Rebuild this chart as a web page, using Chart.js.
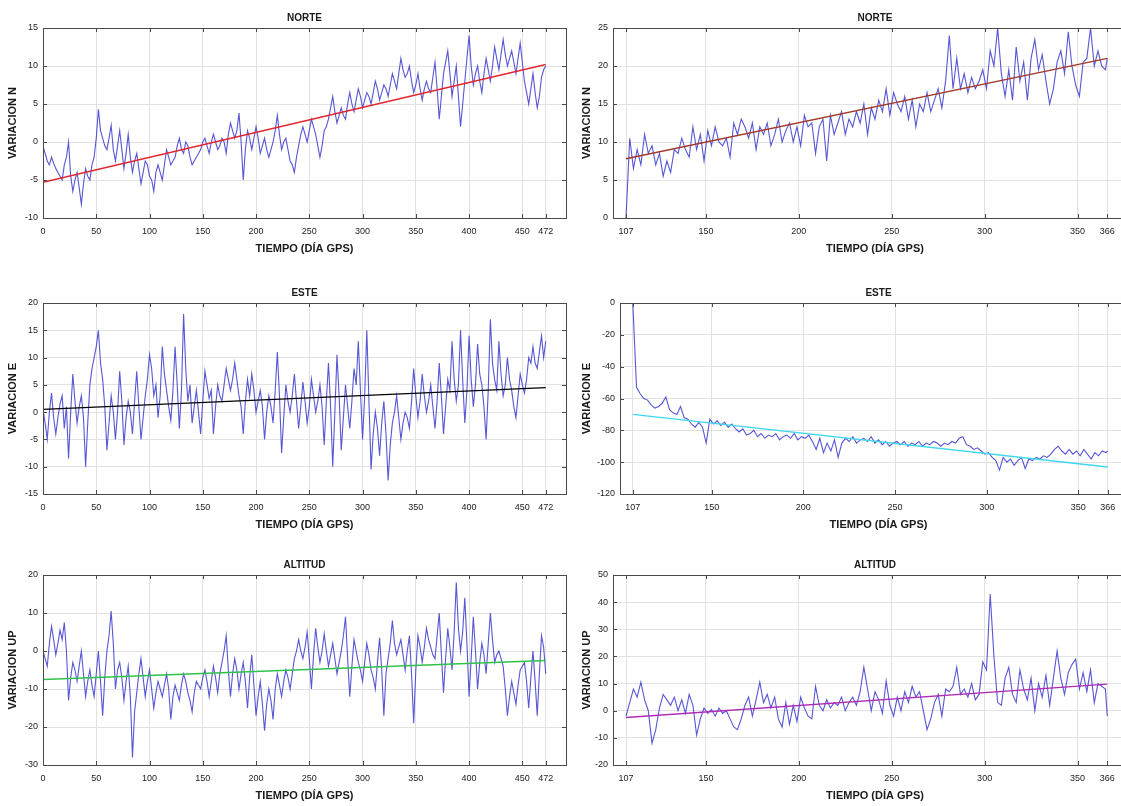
<!DOCTYPE html>
<html>
<head>
<meta charset="utf-8">
<script src="https://cdn.jsdelivr.net/npm/chart.js@4.4.0/dist/chart.umd.min.js"></script>
<style>
  html, body { margin: 0; padding: 0; background: #fff; }
  body { width: 1121px; height: 806px; overflow: hidden; position: relative; }
  canvas { position: absolute; }
</style>
</head>
<body>
<canvas id="norteL"></canvas>
<canvas id="norteR"></canvas>
<canvas id="esteL"></canvas>
<canvas id="esteR"></canvas>
<canvas id="altL"></canvas>
<canvas id="altR"></canvas>
<script>
const X_LABEL = "TIEMPO (DÍA GPS)";
const TITLES = ["NORTE", "ESTE", "ALTITUD"];
const Y_LABELS = ["VARIACION N", "VARIACION E", "VARIACION UP"];

const X_TICKS_L = [0, 50, 100, 150, 200, 250, 300, 350, 400, 450, 472];
const X_TICKS_R = [107, 150, 200, 250, 300, 350, 366];

// left column: one reading every 2 days, day 0 .. 472 (20 per row = 40 days)
const STEP_L = 2;
const NORTE_L = [
  -0.5, -1.5, -2.5, -3.0, -2.0, -2.8, -3.5, -4.0, -4.5, -5.0, -3.0, -2.0, 0.0, -4.5, -6.5, -5.0, -4.0, -6.0, -8.2, -5.5,
  -3.5, -4.5, -5.0, -3.0, -2.0, 0.5, 4.3, 1.5, 0.5, -0.5, -1.0, 0.5, 2.2, -1.0, -2.5, -0.5, 1.5, -1.0, -3.5, -1.5,
  1.0, -2.0, -4.0, -2.5, -1.5, -3.5, -5.5, -4.0, -2.5, -3.0, -4.5, -5.0, -6.5, -4.0, -3.0, -4.0, -5.0, -3.0, -1.0, -2.0,
  -3.0, -2.5, -2.0, -0.5, 0.5, -1.0, -1.5, 0.0, -0.5, -2.0, -3.0, -2.5, -2.0, -1.5, -1.0, 0.0, 0.5, -0.5, -1.5, 0.0,
  1.0, 0.0, -1.0, -0.5, 0.5, 0.0, -1.5, 1.0, 2.5, 1.5, 0.5, 1.5, 3.8, 0.0, -5.0, -1.0, 1.5, 0.5, -1.0, 0.5,
  2.0, 0.5, -1.5, -0.5, 0.5, -1.0, -2.0, -1.0, 0.0, 1.5, 3.5, 1.0, -1.0, 0.0, 0.5, -1.0, -2.5, -3.0, -4.0, -2.0,
  -0.5, 1.0, 2.0, 1.0, 0.0, 1.5, 3.0, 2.0, 1.0, -0.5, -2.0, -0.5, 1.5, 2.0, 3.0, 4.5, 6.0, 4.0, 2.5, 3.5,
  4.5, 3.5, 3.0, 5.0, 6.5, 5.0, 4.0, 5.5, 7.0, 6.0, 4.5, 5.5, 6.5, 6.0, 5.0, 6.5, 8.0, 7.0, 5.5, 6.5,
  7.5, 7.0, 6.0, 7.5, 9.0, 8.0, 7.0, 9.0, 11.0, 9.5, 8.5, 9.0, 10.0, 8.0, 6.5, 7.5, 9.0, 7.0, 5.5, 7.0,
  8.0, 7.0, 6.5, 8.5, 10.5, 7.0, 3.0, 6.0, 9.0, 10.5, 12.0, 9.0, 6.0, 8.0, 10.0, 6.0, 2.0, 5.0, 8.0, 11.0,
  14.0, 10.0, 7.5, 9.0, 10.0, 8.0, 6.5, 9.0, 11.0, 9.5, 8.0, 10.0, 12.5, 11.0, 9.5, 11.5, 13.5, 11.5, 10.0, 11.0,
  12.0, 10.5, 9.0, 11.0, 13.0, 10.5, 8.0, 6.5, 5.0, 7.0, 9.0, 6.5, 4.5, 6.0, 8.5, 9.5, 10.0
];
const ESTE_L = [
  0.5, -2, -5, 0, 3.5, -1, -4, -1, 1.5, 3, -3, 1, -8.5, 0, 7, 2, -2, 1, 3, -1,
  -10, -2, 5, 8, 10, 12, 15, 9, 6, 1, -7, -2, 3, 0, -5, 0, 7.5, 2, -6, -1,
  2, 0, -4, 2, 7.5, 1, -5, -1, 3, 6, 10.5, 8, 3, 5, -1, 3, 12, 7, 4, 1,
  -1.5, 4, 12, 5, -3, 4, 18, 8, 2, 5, -2, 1, 4, 0, -4, 2, 7.5, 5, 2.5, 4,
  -4, 1, 5, 3, 2, 5, 8, 6, 4, 6, 9, 6, 3, 1, -4, 2, 6, 3, 7, 4,
  0, 2, 4, 1, -5, 0, 3, 1, -2, 4, 11, 3, -7.5, -1, 5, 2, 0, 3, 7, 2,
  -3, 1, 5.5, 2, -2, 1, 6, 3, 0, 2, 5, 1, -6, 2, 9, 1, -10, 0, 10.5, 3,
  -7, -1, 5, 1, -3, 2, 8, 5, 13, 4, -5, 3, 15, 2, -10.5, -4, 0, -3, -8, -2,
  2, -4, -12.5, -6, -2, 0, 3, -1, -5, -2, 0, -1, -3, 2, 8, 3, -1, 2, 7, 3,
  0, 2, 5, 1, -3, 2, 9, 3, -4, 1, 6, 4, 13, 6, 2, 5, 15, 6, -2, 4,
  14, 6, 1, 5, 12.5, 7, 5, 1, -5, 4, 17, 9, 6, 4, 13, 7, 3, 5, 10, 6,
  4, 1, -1, 3, 7, 5, 3.5, 6, 10, 9, 12, 9, 8, 11, 14, 10, 13
];
const ALT_L = [
  0, -2, -4, 2, 6.5, 3, -1, 2, 5.5, 3, 7.5, 0, -13, -7, -3, -5, -8, -4, 0, -6,
  -12, -8, -5, -9, -12, -6, 0, -8, -17, -7, 0, 4, 10.5, 2, -10, -5, -3, -7, -13, -8,
  -4, -12, -28, -16, -11, -6, -2, -7, -12, -8, -5, -10, -15, -11, -8, -10, -12, -9, -6, -10,
  -18, -12, -9, -11, -13, -9, -6, -8, -11, -13, -16, -11, -8, -9, -10, -7, -5, -8, -12, -8,
  -4, -7, -11, -6, -3, 0, 4, -5, -12, -6, -2, -5, -10, -6, -3, -8, -15, -7, -1, -9,
  -17, -12, -8, -14, -21, -14, -10, -13, -18, -10, -6, -9, -12, -8, -5, -7, -10, -6, -2, 0,
  3, 0, -2, 1, 5, -2, -10, -1, 6, 1, -3, 0, 4.5, 0, -4, -1, 2, -2, -6, -3,
  0, 4, 9, -2, -12, -4, 3, 0, -3, -5, -8, -3, 2, -1, -5, -7, -10, -3, 3.5, -5,
  -17, -6, -2, 2, 8, 2, -1, 1, 3, -1, -5, 0, 4, -6, -19, -5, 4, 1, -3, 1,
  6, 3, 1, -1, -2, 4, 10, -1, -11, -2, 6, 1, -5, 5, 18, 6, 0, 5, 14, 2,
  -12, -2, 9, 0, -10, -3, 2, -1, -6, 2, 10, 3, -3, -1, 0, -2, -4, -10, -17, -12,
  -8, -11, -14, -9, -5, -4, -3, -8, -15, -7, 0, -8, -17, -6, 4, 1, -6
];

// right column: one reading every 2 days from day 107, last one on day 366
const START_R = 107, STEP_R = 2, END_R = 366;
const NORTE_R = [
  0, 10.5, 6.5, 9, 7, 11, 8.5, 9.5, 7, 8.5,
  5.5, 7.5, 6, 9, 8.5, 10.5, 9, 8, 12, 9,
  11, 7.5, 11.5, 9.5, 12, 10, 9.5, 10.5, 8, 12.5,
  11, 13, 12, 10.5, 12.5, 9, 12, 11, 12.5, 9.5,
  11, 13, 10, 11.5, 12.5, 10, 12, 9.5, 13.5, 12,
  12.5, 8.5, 12, 13, 7.5, 13.5, 11, 12.5, 14, 11,
  13, 12, 14, 12.5, 15, 11, 14.5, 13, 15.5, 14,
  17, 13.5, 16.5, 15, 14, 16, 13, 15.5, 12, 15,
  14, 16.5, 14, 15.5, 17, 14.5, 18, 24, 17, 21,
  17, 19, 16.5, 18.5, 17, 18, 19.5, 17, 22, 20,
  25, 19, 16, 19.5, 15.5, 22.5, 18, 20.5, 15.5, 21,
  23.5, 19.5, 21.5, 18, 15, 17, 20.5, 22, 19, 24.5,
  20, 17.5, 16, 20.5, 21, 25, 20, 22, 20, 19.5,
  21
];
const ESTE_R = [
  0, -53, -57, -60, -61, -64, -66, -65, -63, -59,
  -67, -69, -70, -65, -72, -73, -76, -78, -75, -78,
  -88, -73, -76, -74, -77, -75, -78, -76, -79, -81,
  -79, -83, -82, -80, -84, -82, -85, -83, -84, -82,
  -86, -84, -83, -85, -82, -86, -84, -85, -83, -87,
  -92, -85, -94, -88, -93, -86, -97, -88, -85, -87,
  -84, -88, -86, -85, -87, -84, -88, -86, -89, -87,
  -90, -88, -87, -89, -87, -90, -88, -89, -87, -90,
  -88, -89, -87, -88, -90, -88, -89, -87, -88, -85,
  -84, -89, -90, -92, -91, -93, -95, -94, -97, -99,
  -105, -97, -100, -98, -102, -99, -97, -104, -98, -99,
  -97, -98, -96, -97, -95, -92, -90, -93, -95, -92,
  -95, -93, -96, -92, -95, -98, -94, -96, -93, -94,
  -93
];
const ALT_R = [
  -2, 3, 8, 5, 10.5, 4, 0, -12, -7, 1,
  6, 4, 2, 5, 0, 4, -1, 6, 2, -9,
  -3, 1, -1, 0.5, -2, 1, -1, 0, -3, -6,
  -7, -3, 2, 5, -2, 4, 10.5, 3, 6, 1,
  5, -3, -6, 3, -5, 2, -4, 5, 1, -2,
  -3, 9, 2, 0, 4, 1, 3, 2, 5, 0,
  3, 5, 2, 7, 16, 8, 0, 7, 4, -1,
  11, 2, -2, 5, 0, 7, 3, 9, 5, 7,
  0, -7, -3, 3, 6, -2, 8, 7, 9, 16,
  6, 8, 5, 10, 4, 6, 18, 15, 43, 20,
  3, 2, 12, 16, 6, 3, 15, 8, 4, 12,
  0, 10, 5, 13, 2, 12, 22, 12, 6, 14,
  17, 19, 8, 14, 7, 15, 3, 10, 9, 8,
  -2
];

// fitted trend lines, value on first and last day
const TREND_NORTE_L = [-5.3, 10.2];
const TREND_ESTE_L = [0.5, 4.5];
const TREND_ALT_L = [-7.5, -2.5];
const TREND_NORTE_R = [7.8, 21.0];
const TREND_ESTE_R = [-70, -103];
const TREND_ALT_R = [-2.5, 9.8];

const FONT = "'Liberation Sans', Arial, sans-serif";
const SERIES_COLOR = "rgba(50,50,205,0.82)";
const GRID = "#e2e2e2";

function daysLeft(n) {
  return Array.from({ length: n }, (_, i) => i * STEP_L);
}
function daysRight(n) {
  return Array.from({ length: n }, (_, i) => Math.min(START_R + i * STEP_R, END_R));
}

// matlab style box with small inward ticks
const boxPlugin = {
  id: "box",
  afterDraw(chart) {
    const { ctx, chartArea: a, scales } = chart;
    ctx.save();
    ctx.strokeStyle = "#4a4a4a";
    ctx.lineWidth = 1;
    ctx.strokeRect(Math.round(a.left) + 0.5, Math.round(a.top) + 0.5, Math.round(a.width), Math.round(a.height));
    ctx.beginPath();
    scales.x.ticks.forEach(t => {
      const px = Math.round(scales.x.getPixelForValue(t.value)) + 0.5;
      ctx.moveTo(px, a.bottom); ctx.lineTo(px, a.bottom - 4);
      ctx.moveTo(px, a.top); ctx.lineTo(px, a.top + 4);
    });
    scales.y.ticks.forEach(t => {
      const py = Math.round(scales.y.getPixelForValue(t.value)) + 0.5;
      ctx.moveTo(a.left, py); ctx.lineTo(a.left + 4, py);
      ctx.moveTo(a.right, py); ctx.lineTo(a.right - 4, py);
    });
    ctx.stroke();
    ctx.restore();
  }
};

function panel(id, o) {
  const el = document.getElementById(id);
  el.width = o.w;
  el.height = o.h;
  el.style.left = o.left + "px";
  el.style.top = o.top + "px";
  const days = o.right ? daysRight(o.values.length) : daysLeft(o.values.length);
  const tDays = o.right ? [START_R, END_R] : [0, 472];

  new Chart(el, {
    type: "line",
    data: {
      datasets: [
        {
          data: tDays.map((d, i) => ({ x: d, y: o.trend[i] })),
          borderColor: o.trendColor,
          borderWidth: 1.4,
          pointRadius: 0
        },
        {
          data: days.map((d, i) => ({ x: d, y: o.values[i] })),
          borderColor: SERIES_COLOR,
          borderWidth: 1.1,
          pointRadius: 0
        }
      ]
    },
    options: {
      responsive: false,
      animation: false,
      events: [],
      layout: { padding: { top: 12, right: o.padRight, left: 0, bottom: 0 } },
      plugins: {
        legend: { display: false },
        tooltip: { enabled: false },
        title: {
          display: true,
          text: o.title,
          fullSize: false,
          color: "#1a1a1a",
          font: { family: FONT, size: 10, weight: "bold" },
          padding: { top: 0, bottom: 4 }
        }
      },
      scales: {
        x: {
          type: "linear",
          min: o.xMin,
          max: o.xMax,
          afterBuildTicks: ax => { ax.ticks = o.xTicks.map(v => ({ value: v })); },
          afterFit: ax => { ax.height = 40; },
          grid: { color: GRID, drawTicks: false },
          border: { display: false },
          ticks: {
            padding: 8,
            color: "#222",
            autoSkip: false,
            maxRotation: 0,
            font: { family: FONT, size: 9 },
            callback: v => String(v)
          },
          title: {
            display: true,
            text: X_LABEL,
            color: "#1a1a1a",
            font: { family: FONT, size: 11, weight: "bold" },
            padding: { top: 0, bottom: 2 }
          }
        },
        y: {
          min: o.yMin,
          max: o.yMax,
          afterFit: ax => { ax.width = o.yWidth; },
          grid: { color: GRID, drawTicks: false },
          border: { display: false },
          ticks: {
            stepSize: o.yStep,
            padding: 5,
            color: "#222",
            font: { family: FONT, size: 9 }
          },
          title: {
            display: true,
            text: o.yLabel,
            color: "#1a1a1a",
            font: { family: FONT, size: 11, weight: "bold" },
            padding: { top: o.yTitlePad, bottom: 0 }
          }
        }
      }
    },
    plugins: [boxPlugin]
  });
}

const L = { left: 0, w: 572, padRight: 6, yWidth: 43, yTitlePad: 6, xMin: 0, xMax: 491, xTicks: X_TICKS_L };
const R = { left: 570, w: 570, padRight: 3, yWidth: 43, yTitlePad: 10, xMin: 100, xMax: 382, xTicks: X_TICKS_R, right: true };

panel("norteL", Object.assign({}, L, { top: 0, h: 258, title: TITLES[0], yLabel: Y_LABELS[0],
  values: NORTE_L, trend: TREND_NORTE_L, trendColor: "#e3262e", yMin: -10, yMax: 15, yStep: 5 }));
panel("norteR", Object.assign({}, R, { top: 0, h: 258, title: TITLES[0], yLabel: Y_LABELS[0],
  values: NORTE_R, trend: TREND_NORTE_R, trendColor: "#a33a2a", yMin: 0, yMax: 25, yStep: 5 }));
panel("esteL", Object.assign({}, L, { top: 275, h: 259, title: TITLES[1], yLabel: Y_LABELS[1],
  values: ESTE_L, trend: TREND_ESTE_L, trendColor: "#000000", yMin: -15, yMax: 20, yStep: 5 }));
panel("esteR", Object.assign({}, R, { top: 275, h: 259, yWidth: 50, title: TITLES[1], yLabel: Y_LABELS[1],
  values: ESTE_R, trend: TREND_ESTE_R, trendColor: "#3fd8ee", yMin: -120, yMax: 0, yStep: 20 }));
panel("altL", Object.assign({}, L, { top: 547, h: 258, title: TITLES[2], yLabel: Y_LABELS[2],
  values: ALT_L, trend: TREND_ALT_L, trendColor: "#2fc24a", yMin: -30, yMax: 20, yStep: 10 }));
panel("altR", Object.assign({}, R, { top: 547, h: 258, title: TITLES[2], yLabel: Y_LABELS[2],
  values: ALT_R, trend: TREND_ALT_R, trendColor: "#b02ab8", yMin: -20, yMax: 50, yStep: 10 }));
</script>
</body>
</html>
